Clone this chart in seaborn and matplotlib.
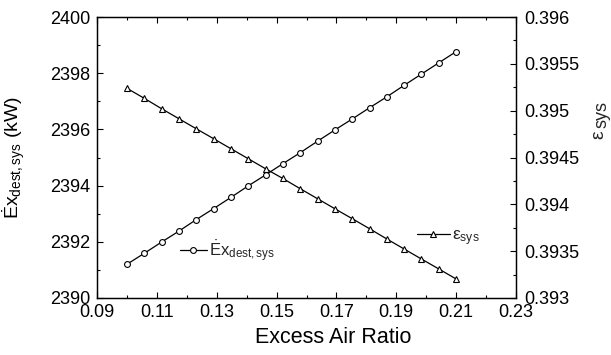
import numpy as np
import pandas as pd
import matplotlib
matplotlib.use("Agg")
import matplotlib.pyplot as plt
from matplotlib.ticker import MultipleLocator
from matplotlib.lines import Line2D
import seaborn as sns

sns.set_theme(style="white")
plt.rcParams['font.family'] = ['Liberation Sans', 'DejaVu Sans']
plt.rcParams['mathtext.fontset'] = 'custom'
plt.rcParams['mathtext.rm'] = 'Liberation Sans'
plt.rcParams['mathtext.it'] = 'Liberation Sans:italic'
plt.rcParams['mathtext.sf'] = 'Liberation Sans'

# ---- data ----
excess_air = [0.1 + i * 0.11 / 19 for i in range(20)]
ex_dest = [2391.20, 2391.59, 2391.99, 2392.38, 2392.79, 2393.18, 2393.58, 2393.99,
           2394.38, 2394.78, 2395.17, 2395.58, 2395.98, 2396.37, 2396.77, 2397.16,
           2397.57, 2397.97, 2398.37, 2398.77]
eps_sys = [0.395239, 0.395132, 0.395021, 0.394914, 0.394807, 0.394701, 0.394594,
           0.394487, 0.394380, 0.394276, 0.394167, 0.394060, 0.393953, 0.393847,
           0.393740, 0.393630, 0.393523, 0.393416, 0.393310, 0.393203]
x_ticks = [0.09, 0.11, 0.13, 0.15, 0.17, 0.19, 0.21, 0.23]
y_left_ticks = [2390, 2392, 2394, 2396, 2398, 2400]
y_right_ticks = [0.393, 0.3935, 0.394, 0.3945, 0.395, 0.3955, 0.396]

df = pd.DataFrame({"x": excess_air, "ex": ex_dest, "eps": eps_sys})

W, H = 611, 355
fig = plt.figure(figsize=(W / 100, H / 100), dpi=100)
ax = fig.add_axes([97 / W, 1 - 298 / H, (516 - 97) / W, (298 - 17) / H])
ax2 = ax.twinx()

mk = dict(color='black', linewidth=0.9, markerfacecolor='white',
          markeredgecolor='black', markeredgewidth=0.8)
sns.lineplot(data=df, x="x", y="ex", marker='o', markersize=4.2, ax=ax, **mk)
sns.lineplot(data=df, x="x", y="eps", marker='^', markersize=5.0, ax=ax2, **mk)

ax.set_xlim(0.09, 0.23)
ax.set_ylim(2390, 2400)
ax2.set_ylim(0.393, 0.396)
ax.set_xticks(x_ticks)
ax.set_xticklabels([f"{v:g}" for v in x_ticks])
ax.xaxis.set_minor_locator(MultipleLocator(0.01))
ax.set_yticks(y_left_ticks)
ax.set_yticklabels([f"{v:g}" for v in y_left_ticks])
ax.yaxis.set_minor_locator(MultipleLocator(1))
ax2.set_yticks(y_right_ticks)
ax2.set_yticklabels([f"{v:g}" for v in y_right_ticks])
ax2.yaxis.set_minor_locator(MultipleLocator(0.00025))

for a in (ax, ax2):
    for s in a.spines.values():
        s.set_color('black')
        s.set_linewidth(0.9)
    a.tick_params(which='both', direction='in', colors='black', labelsize=13, width=0.8)
    a.tick_params(which='major', length=4)
    a.tick_params(which='minor', length=2.5)
ax.tick_params(which='both', top=True, right=False, bottom=True, left=True)
ax.tick_params(axis='x', pad=4)
ax.tick_params(axis='y', pad=5)
ax2.tick_params(which='both', right=True, left=False)
ax2.tick_params(axis='y', pad=6)

ax.set_xlabel("Excess Air Ratio", fontsize=15.5, color='black')
ax.xaxis.set_label_coords((333 - 97) / 419, -(327 - 298) / 281)
ax.set_ylabel(r"$\mathrm{\dot{E}x_{dest,sys}}$ (kW)", fontsize=14, color='black')
ax.yaxis.set_label_coords((27 - 97) / 419, 0.5)
ax2.set_ylabel("")

# right axis label: epsilon with large subscript
fig.text(599 / W, 1 - 135 / H, "ε", rotation=90, fontsize=14, ha='center', va='center')
fig.text(602 / W, 1 - 114 / H, "sys", rotation=90, fontsize=13, ha='center', va='center')

h1 = Line2D([], [], marker='o', markersize=4.2, **mk)
h2 = Line2D([], [], marker='^', markersize=5.0, **mk)
fig.legend([h1], [r"$\mathrm{\dot{E}x_{dest,sys}}$"], loc='center left',
           bbox_to_anchor=(180 / W, 1 - 251 / H), frameon=False, fontsize=12,
           handlelength=1.6, handletextpad=0.15, borderpad=0, borderaxespad=0)
fig.legend([h2], [r"$\mathrm{ε_{sys}}$"], loc='center left',
           bbox_to_anchor=(417 / W, 1 - 238 / H), frameon=False, fontsize=12.5,
           handlelength=1.9, handletextpad=0.1, borderpad=0, borderaxespad=0)

fig.savefig("out.png", dpi=100, facecolor='white')
